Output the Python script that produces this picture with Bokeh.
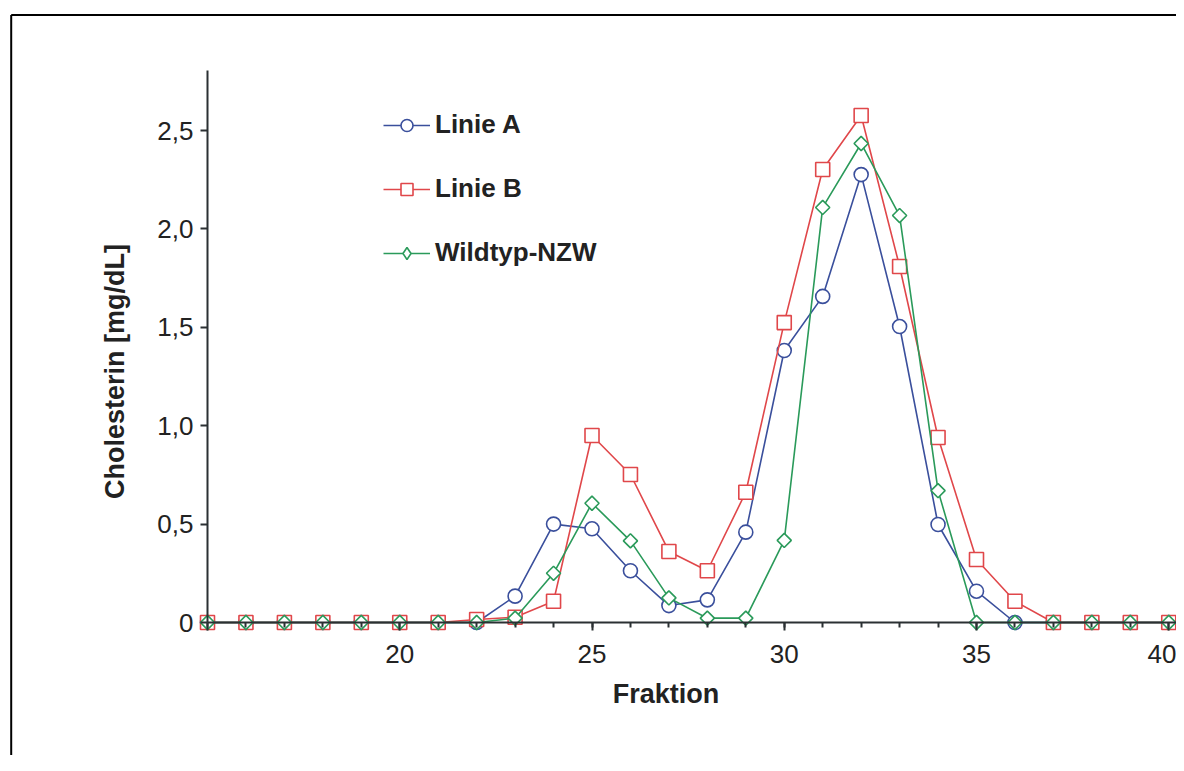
from bokeh.plotting import figure
from bokeh.models import Range1d, FixedTicker, Legend, LegendItem, LinearAxis
from bokeh.embed import file_html
from bokeh.resources import INLINE
import math

fraktion = list(range(15, 41))
linie_a = [0, 0, 0, 0, 0, 0, 0, 0, 0.134, 0.50, 0.476, 0.263, 0.086, 0.115, 0.459,
           1.382, 1.657, 2.276, 1.504, 0.498, 0.159, 0, 0, 0, 0, 0]
linie_b = [0, 0, 0, 0, 0, 0, 0, 0.015, 0.027, 0.108, 0.95, 0.752, 0.361, 0.263, 0.662,
           1.524, 2.302, 2.576, 1.809, 0.94, 0.32, 0.108, 0, 0, 0, 0]
wildtyp = [0, 0, 0, 0, 0, 0, 0, 0, 0.022, 0.25, 0.606, 0.415, 0.125, 0.022, 0.022,
           0.417, 2.109, 2.434, 2.068, 0.67, 0, 0, 0, 0, 0, 0]

x_ticks = [15, 20, 25, 30, 35, 40]
x_tick_labels = {15: "", 20: "20", 25: "25", 30: "30", 35: "35", 40: "40"}
y_ticks = [0, 0.5, 1.0, 1.5, 2.0, 2.5]
y_tick_labels = {0: "0", 0.5: "0,5", 1: "1,0", 1.5: "1,5", 2: "2,0", 2.5: "2,5"}

BLUE = "#3a4f9c"
RED = "#e0474a"
GREEN = "#2a9a5a"
AXIS = "#2b3033"
FONT = "Liberation Sans"

# canvas geometry (the plot frame fills the whole canvas)
W, H = 1176, 755
SX = 38.45          # px per fraction
SY = 196.8          # px per mg/dL
X_AT_LEFT = 15 - 207 / SX
Y_AT_TOP = 2.5 + 130 / SY


def xd(px):
    return X_AT_LEFT + px / SX


def yd(py):
    return Y_AT_TOP - py / SY


p = figure(width=W, height=H, x_range=Range1d(xd(0), xd(W)),
           y_range=Range1d(yd(H), yd(0)), output_backend="svg",
           toolbar_location=None, min_border_left=0, min_border_top=0,
           min_border_right=0, min_border_bottom=0)
p.outline_line_color = None
p.grid.visible = False
p.background_fill_color = "white"
p.border_fill_color = "white"

# outer frame of the figure (only its left and top edges are in view)
fx, fy = xd(10.7), yd(14.4)
p.segment(x0=[fx, fx], y0=[fy, fy], x1=[fx, xd(W + 50)], y1=[yd(H + 50), fy],
          line_color="black", line_width=2)

# lines + markers
ra_l = p.line(fraktion, linie_a, line_color=BLUE, line_width=1.6)
ra_m = p.scatter(fraktion, linie_a, marker="circle", size=14, line_color=BLUE,
                 line_width=1.6, fill_color="white")
rb_l = p.line(fraktion, linie_b, line_color=RED, line_width=1.6)
rb_m = p.scatter(fraktion, linie_b, marker="square", size=14, line_color=RED,
                 line_width=1.6, fill_color="white")
rw_l = p.line(fraktion, wildtyp, line_color=GREEN, line_width=1.6)
rw_m = p.scatter(fraktion, wildtyp, marker="square", size=10, angle=math.pi / 4,
                 line_color=GREEN, line_width=1.6, fill_color="white")
# legend-only diamond (not shown in the plot area)
rw_leg = p.scatter([float("nan")], [float("nan")], marker="diamond", size=20,
                   line_color=GREEN, line_width=1.6, fill_color="white")


def style_axis(ax):
    ax.axis_line_color = AXIS
    ax.axis_line_width = 2
    ax.major_tick_line_color = AXIS
    ax.major_tick_line_width = 2
    ax.minor_tick_line_color = AXIS
    ax.minor_tick_line_width = 2
    ax.major_label_text_font = FONT
    ax.major_label_text_font_size = "26px"
    ax.major_label_text_color = "#222222"
    ax.axis_label_text_font = FONT
    ax.axis_label_text_font_size = "27px"
    ax.axis_label_text_font_style = "bold"
    ax.axis_label_text_color = "#222222"


# main axes (lines, ticks, tick labels)
xa = p.xaxis[0]
xa.fixed_location = 0
xa.bounds = (15, xd(W))
xa.ticker = FixedTicker(ticks=x_ticks, minor_ticks=fraktion)
xa.major_label_overrides = x_tick_labels
xa.major_tick_in = 0
xa.major_tick_out = 8
xa.minor_tick_in = 0
xa.minor_tick_out = 5
xa.major_label_standoff = 14
style_axis(xa)

ya = p.yaxis[0]
ya.fixed_location = 15
ya.bounds = (0, yd(70))
ya.ticker = FixedTicker(ticks=y_ticks, minor_ticks=[])
ya.major_label_overrides = y_tick_labels
ya.major_tick_in = 0
ya.major_tick_out = 7
ya.minor_tick_in = 0
ya.minor_tick_out = 0
ya.major_label_standoff = 7
style_axis(ya)

# companion axes carrying only the axis titles
xt = LinearAxis(fixed_location=0, bounds=(15, 38.85), axis_label="Fraktion",
                ticker=FixedTicker(ticks=[], minor_ticks=[]))
style_axis(xt)
xt.axis_line_color = None
xt.major_tick_line_color = None
xt.minor_tick_line_color = None
xt.major_tick_in = 0
xt.major_tick_out = 8
xt.axis_label_standoff = 56
p.add_layout(xt, "below")

yt = LinearAxis(fixed_location=15, bounds=(0, 2.55), axis_label="Cholesterin [mg/dL]",
                ticker=FixedTicker(ticks=[], minor_ticks=[]))
style_axis(yt)
yt.axis_line_color = None
yt.major_tick_line_color = None
yt.minor_tick_line_color = None
yt.major_tick_in = 0
yt.major_tick_out = 7
yt.axis_label_standoff = 78
p.add_layout(yt, "left")

legend = Legend(items=[
    LegendItem(label="Linie A", renderers=[ra_l, ra_m]),
    LegendItem(label="Linie B", renderers=[rb_l, rb_m]),
    LegendItem(label="Wildtyp-NZW", renderers=[rw_l, rw_leg]),
], location=(383, 487))
legend.label_text_font = FONT
legend.label_text_font_size = "26px"
legend.label_text_font_style = "bold"
legend.label_text_color = "#222222"
legend.glyph_width = 47
legend.glyph_height = 30
legend.label_height = 30
legend.spacing = 33
legend.label_standoff = 5
legend.padding = 0
legend.margin = 0
legend.border_line_color = None
legend.background_fill_alpha = 0
legend.inactive_fill_alpha = 0
p.add_layout(legend, "center")

open("out.html", "w").write(file_html(p, INLINE))
